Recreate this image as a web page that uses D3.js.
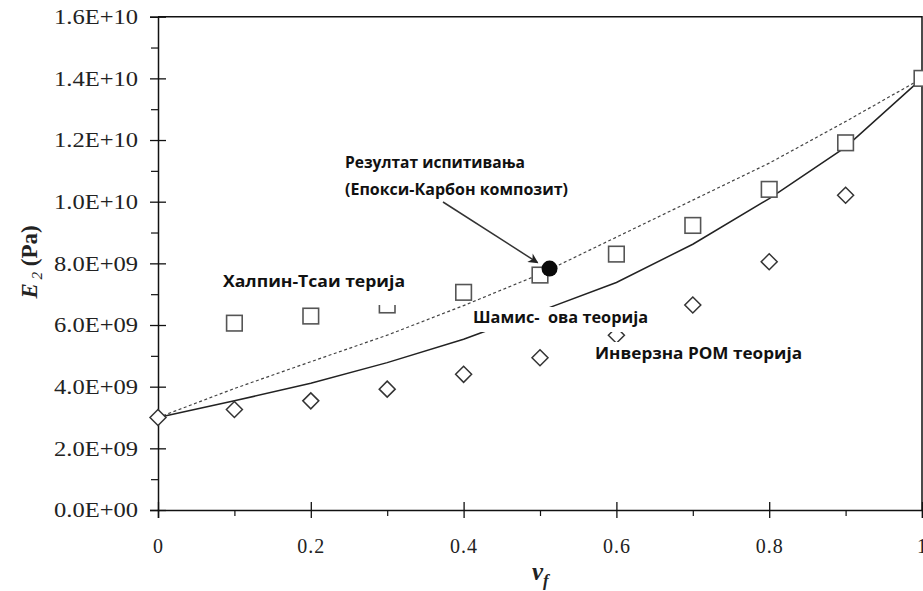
<!DOCTYPE html>
<html>
<head>
<meta charset="utf-8">
<script src="https://cdn.jsdelivr.net/npm/d3@7/dist/d3.min.js"></script>
<style>
  html, body { margin: 0; padding: 0; background: #fff; }
  svg { display: block; }
</style>
</head>
<body>
<svg id="chart" width="923" height="591"></svg>
<script>
// ---- data ----
const vfGrid = [0, 0.1, 0.2, 0.3, 0.4, 0.5, 0.6, 0.7, 0.8, 0.9, 1.0];
// Halpin-Tsai theory (dashed line)
const halpinTsai = [3.0e9, 3.94e9, 4.81e9, 5.67e9, 6.63e9, 7.65e9, 8.85e9, 10.05e9, 11.25e9, 12.6e9, 14.0e9];
// Chamis theory (solid line)
const chamis = [3.0e9, 3.54e9, 4.11e9, 4.78e9, 5.54e9, 6.45e9, 7.38e9, 8.62e9, 10.1e9, 11.77e9, 14.0e9];
// squares
const squareX = [0.1, 0.2, 0.3, 0.4, 0.5, 0.6, 0.7, 0.8, 0.9, 1.0];
const squareY = [6.06e9, 6.29e9, 6.65e9, 7.06e9, 7.62e9, 8.30e9, 9.23e9, 10.40e9, 11.91e9, 14.0e9];
// diamonds: inverse ROM
const diamondX = [0, 0.1, 0.2, 0.3, 0.4, 0.5, 0.6, 0.7, 0.8, 0.9];
const diamondY = [3.0e9, 3.26e9, 3.54e9, 3.92e9, 4.40e9, 4.94e9, 5.67e9, 6.65e9, 8.05e9, 10.21e9];
// experimental result
const testX = [0.5125];
const testY = [7.83e9];
// ticks
const yTicks = [0, 2e9, 4e9, 6e9, 8e9, 10e9, 12e9, 14e9, 16e9];
const yTickLabels = ["0.0E+00", "2.0E+09", "4.0E+09", "6.0E+09", "8.0E+09", "1.0E+10", "1.2E+10", "1.4E+10", "1.6E+10"];
const yMinor = [1e9, 3e9, 5e9, 7e9, 9e9, 11e9, 13e9, 15e9];
const xTicks = [0, 0.2, 0.4, 0.6, 0.8, 1];
const xTickLabels = ["0", "0.2", "0.4", "0.6", "0.8", "1"];
const xMinor = [0.1, 0.3, 0.5, 0.7, 0.9];

// ---- layout ----
const svg = d3.select("#chart");
const x = d3.scaleLinear().domain([0, 1]).range([158, 922]);
const y = d3.scaleLinear().domain([0, 1.6e10]).range([510, 16.7]);

const serif = "'Liberation Serif', 'Times New Roman', serif";
const sans = "'Open Sans', 'DejaVu Sans', sans-serif";

// frame (top & right)
svg.append("path")
  .attr("d", `M${x(0)},${y(1.6e10)}H${x(1)}V${y(0)}`)
  .attr("fill", "none").attr("stroke", "#111").attr("stroke-width", 1.5);

// y axis
const yAxis = svg.append("g").attr("transform", `translate(${x(0)},0)`)
  .call(d3.axisLeft(y).tickValues(yTicks).tickSize(8).tickFormat((d, i) => yTickLabels[i]));
yAxis.select(".domain").attr("stroke", "#111").attr("stroke-width", 1.5);
yAxis.selectAll(".tick line").attr("x2", 8).attr("x1", -8).attr("stroke", "#111").attr("stroke-width", 1.3);
yAxis.selectAll(".tick text").attr("x", -20).attr("dy", "0.34em")
  .attr("textLength", 84).attr("lengthAdjust", "spacingAndGlyphs")
  .style("font-family", serif).style("font-size", "20px").attr("fill", "#222");
svg.append("g").attr("transform", `translate(${x(0)},0)`)
  .call(d3.axisLeft(y).tickValues(yMinor).tickSize(7).tickFormat(""))
  .call(g => g.select(".domain").remove())
  .selectAll("line").attr("stroke", "#111").attr("stroke-width", 1.2);

// x axis
const xAxis = svg.append("g").attr("transform", `translate(0,${y(0)})`)
  .call(d3.axisBottom(x).tickValues(xTicks).tickSize(8).tickFormat((d, i) => xTickLabels[i]));
xAxis.select(".domain").attr("stroke", "#111").attr("stroke-width", 1.5);
xAxis.selectAll(".tick line").attr("y1", -8).attr("y2", 8).attr("stroke", "#111").attr("stroke-width", 1.3);
xAxis.selectAll(".tick text").attr("y", 29).attr("dy", "0.71em")
  .style("font-family", serif).style("font-size", "20px").style("letter-spacing", "1px").attr("fill", "#222");
svg.append("g").attr("transform", `translate(0,${y(0)})`)
  .call(d3.axisBottom(x).tickValues(xMinor).tickSize(6).tickFormat(""))
  .call(g => g.select(".domain").remove())
  .selectAll("line").attr("stroke", "#111").attr("stroke-width", 1.2);

// axis titles
const yt = svg.append("text")
  .attr("transform", "translate(37,262) rotate(-90)")
  .attr("text-anchor", "middle")
  .style("font-family", serif).style("font-size", "23px").style("font-weight", "bold").attr("fill", "#222");
yt.append("tspan").style("font-style", "italic").text("E");
yt.append("tspan").style("font-style", "italic").style("font-weight", "normal").style("font-size", "15px").attr("dy", 5).text(" 2");
yt.append("tspan").attr("dy", -5).text(" (Pa)");

const xt = svg.append("text")
  .attr("x", 532).attr("y", 580)
  .style("font-family", serif).style("font-size", "25px").style("font-weight", "bold").attr("fill", "#222");
xt.append("tspan").style("font-style", "italic").text("v");
xt.append("tspan").style("font-style", "italic").style("font-size", "17px").attr("dy", 6).text("f");

// lines
const line = d3.line().x((d, i) => x(vfGrid[i])).y(d => y(d));
svg.append("path").datum(halpinTsai).attr("d", line)
  .attr("fill", "none").attr("stroke", "#444").attr("stroke-width", 1.2).attr("stroke-dasharray", "3,2.5");
svg.append("path").datum(chamis).attr("d", line)
  .attr("fill", "none").attr("stroke", "#222").attr("stroke-width", 1.5);

// squares
svg.append("g").selectAll("rect").data(squareX).join("rect")
  .attr("x", (d) => x(d) - 7.8).attr("y", (d, i) => y(squareY[i]) - 7.8)
  .attr("width", 15.6).attr("height", 15.6)
  .attr("fill", "#fff").attr("stroke", "#555").attr("stroke-width", 1.6);

// diamonds
svg.append("g").selectAll("path").data(diamondX).join("path")
  .attr("d", (d, i) => {
    const cx = x(d), cy = y(diamondY[i]), r = 8;
    return `M${cx},${cy - r}L${cx + r},${cy}L${cx},${cy + r}L${cx - r},${cy}Z`;
  })
  .attr("fill", "#fff").attr("stroke", "#333").attr("stroke-width", 1.5);

// text labels with white boxes
function label(txt, tx, ty, len, box) {
  if (box) svg.append("rect").attr("x", box[0]).attr("y", box[1]).attr("width", box[2]).attr("height", box[3]).attr("fill", "#fff");
  svg.append("text").attr("x", tx).attr("y", ty).text(txt)
    .attr("textLength", len).attr("lengthAdjust", "spacingAndGlyphs")
    .style("white-space", "pre")
    .style("font-family", sans).style("font-weight", "bold").style("font-size", "16px").attr("fill", "#111");
}
label("Халпин-Тсаи терија", 223, 287, 182, [218, 270, 192, 35]);
label("Шамис-  ова теорија", 473, 323, 175, [470, 307, 182, 25]);
label("Инверзна РОМ теорија", 595, 359, 207, [590, 342, 215, 24]);
label("Резултат испитивања", 345, 168, 180, [340, 150, 232, 22]);
label("(Епокси-Карбон композит)", 345, 195, 223, [340, 176, 232, 24]);

// arrow
svg.append("defs").append("marker")
  .attr("id", "ah").attr("viewBox", "0 0 10 10").attr("refX", 9).attr("refY", 5)
  .attr("markerWidth", 12).attr("markerHeight", 10).attr("markerUnits", "userSpaceOnUse").attr("orient", "auto")
  .append("path").attr("d", "M0,0L10,5L0,10L3,5Z").attr("fill", "#222");
svg.append("line")
  .attr("x1", 443).attr("y1", 202).attr("x2", x(testX[0]) - 12).attr("y2", y(testY[0]) - 6)
  .attr("stroke", "#333").attr("stroke-width", 1.5).attr("marker-end", "url(#ah)");

// experimental point
svg.append("g").selectAll("circle").data(testX).join("circle")
  .attr("cx", d => x(d)).attr("cy", (d, i) => y(testY[i])).attr("r", 8)
  .attr("fill", "#0a0a0a");
</script>
</body>
</html>
